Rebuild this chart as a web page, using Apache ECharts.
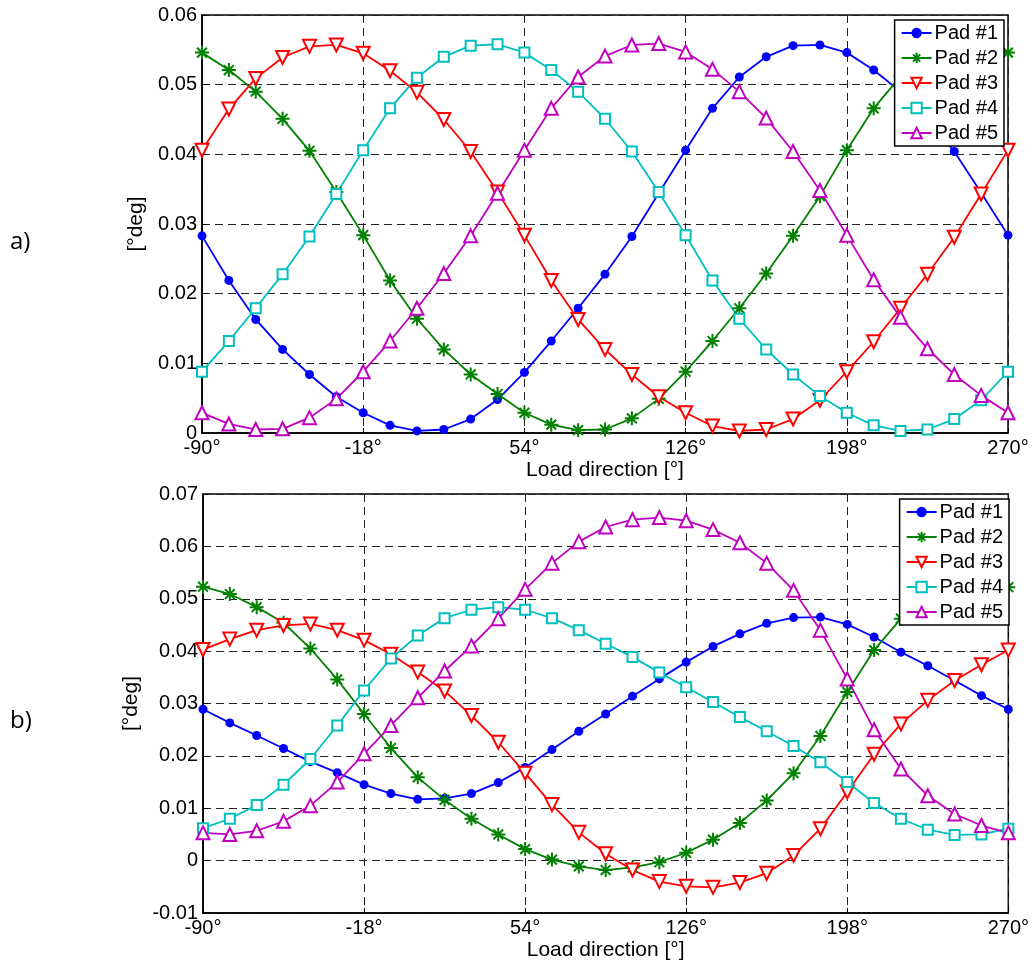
<!DOCTYPE html>
<html>
<head>
<meta charset="utf-8">
<script src="https://cdn.jsdelivr.net/npm/echarts@6/dist/echarts.min.js"></script>
<style>
html,body{margin:0;padding:0;background:#fff;}
#chart{width:1032px;height:965px;}
</style>
</head>
<body>
<div id="chart"></div>
<script>
// Load direction categories (degrees)
const angles = [-90,-78,-66,-54,-42,-30,-18,-6,6,18,30,42,54,66,78,90,102,114,126,138,150,162,174,186,198,210,222,234,246,258,270];
const seriesNames = ['Pad #1','Pad #2','Pad #3','Pad #4','Pad #5'];

// Panel a) values
const a_pad1 = [0.0283,0.0219,0.0163,0.0120,0.0084,0.0052,0.0029,0.0011,0.0003,0.0005,0.0020,0.0048,0.0087,0.0132,0.0179,0.0228,0.0282,0.0344,0.0406,0.0466,0.0511,0.0540,0.0556,0.0557,0.0546,0.0521,0.0490,0.0451,0.0404,0.0345,0.0284];
const a_pad2 = [0.0546,0.0521,0.0490,0.0451,0.0405,0.0346,0.0284,0.0219,0.0164,0.0120,0.0084,0.0056,0.0029,0.0012,0.0004,0.0005,0.0021,0.0049,0.0088,0.0132,0.0179,0.0229,0.0283,0.0340,0.0406,0.0466,0.0512,0.0540,0.0556,0.0557,0.0546];
const a_pad3 = [0.0406,0.0465,0.0509,0.0539,0.0555,0.0557,0.0545,0.0520,0.0489,0.0450,0.0404,0.0346,0.0284,0.0219,0.0163,0.0120,0.0084,0.0052,0.0029,0.0010,0.0003,0.0005,0.0020,0.0047,0.0088,0.0131,0.0179,0.0228,0.0281,0.0343,0.0406];
const a_pad4 = [0.0088,0.0132,0.0179,0.0228,0.0282,0.0343,0.0406,0.0466,0.0510,0.0540,0.0556,0.0558,0.0546,0.0521,0.0490,0.0451,0.0404,0.0346,0.0284,0.0219,0.0164,0.0120,0.0084,0.0053,0.0029,0.0011,0.0003,0.0005,0.0020,0.0047,0.0088];
const a_pad5 = [0.0029,0.0013,0.0005,0.0006,0.0022,0.0049,0.0088,0.0132,0.0179,0.0229,0.0283,0.0344,0.0406,0.0466,0.0511,0.0541,0.0557,0.0559,0.0547,0.0522,0.0490,0.0452,0.0404,0.0348,0.0284,0.0220,0.0166,0.0121,0.0084,0.0054,0.0029];

// Panel b) values
const b_pad1 = [0.0289,0.0263,0.0239,0.0214,0.0189,0.0168,0.0145,0.0128,0.0117,0.0119,0.0128,0.0149,0.0178,0.0212,0.0247,0.0280,0.0314,0.0347,0.0379,0.0409,0.0433,0.0453,0.0464,0.0465,0.0451,0.0427,0.0398,0.0372,0.0344,0.0315,0.0289];
const b_pad2 = [0.0523,0.0509,0.0484,0.0454,0.0405,0.0346,0.0280,0.0215,0.0159,0.0116,0.0080,0.0050,0.0022,0.0002,-0.0011,-0.0018,-0.0013,-0.0003,0.0015,0.0040,0.0072,0.0115,0.0167,0.0238,0.0322,0.0402,0.0462,0.0497,0.0515,0.0524,0.0522];
const b_pad3 = [0.0403,0.0423,0.0440,0.0449,0.0452,0.0440,0.0421,0.0394,0.0360,0.0324,0.0277,0.0226,0.0167,0.0107,0.0054,0.0013,-0.0018,-0.0040,-0.0049,-0.0051,-0.0042,-0.0024,0.0010,0.0061,0.0131,0.0203,0.0261,0.0306,0.0344,0.0374,0.0402];
const b_pad4 = [0.0062,0.0080,0.0106,0.0145,0.0194,0.0258,0.0325,0.0386,0.0430,0.0463,0.0479,0.0484,0.0479,0.0463,0.0440,0.0414,0.0389,0.0359,0.0331,0.0303,0.0274,0.0247,0.0219,0.0188,0.0150,0.0110,0.0080,0.0059,0.0049,0.0050,0.0061];
const b_pad5 = [0.0053,0.0050,0.0057,0.0075,0.0105,0.0150,0.0204,0.0258,0.0311,0.0362,0.0410,0.0462,0.0518,0.0568,0.0609,0.0637,0.0651,0.0655,0.0649,0.0632,0.0607,0.0568,0.0516,0.0440,0.0347,0.0250,0.0175,0.0124,0.0089,0.0067,0.0053];

const yTicksA = {min: 0, max: 0.06, interval: 0.01};
const yTicksB = {min: -0.01, max: 0.07, interval: 0.01};

const colors = ['#0000ff', '#008000', '#ff0000', '#00bfbf', '#bf00bf'];
const asterisk = 'path://M10,0L10,20M0,10L20,10M3,3L17,17M3,17L17,3';
const styles = [
  {symbol: 'circle', symbolSize: 9, symbolRotate: 0, itemStyle: {color: colors[0]}},
  {symbol: asterisk, symbolSize: 14, symbolRotate: 0, itemStyle: {color: colors[1], borderColor: colors[1], borderWidth: 2}},
  {symbol: 'emptyTriangle', symbolSize: 13, symbolRotate: 180, itemStyle: {color: colors[2], borderWidth: 1.6}},
  {symbol: 'emptyRect', symbolSize: 10, symbolRotate: 0, itemStyle: {color: colors[3], borderWidth: 1.6}},
  {symbol: 'emptyTriangle', symbolSize: 13, symbolRotate: 0, itemStyle: {color: colors[4], borderWidth: 1.6}}
];

const FONT = 'Liberation Sans, Arial, sans-serif';
const grids = [
  {left: 202, right: 24, top: 15, height: 418, show: true, borderColor: '#000', borderWidth: 1.5},
  {left: 203, right: 19, top: 494, height: 419, show: true, borderColor: '#000', borderWidth: 1.5}
];

function xAxis(idx) {
  return {
    type: 'category', gridIndex: idx, data: angles, boundaryGap: false,
    name: 'Load direction [°]', nameLocation: 'middle', nameGap: 27,
    nameTextStyle: {fontFamily: FONT, fontSize: 21, color: '#000'},
    axisLine: {onZero: false, lineStyle: {color: '#000', width: 1.5}},
    axisTick: {inside: true, interval: 5, length: 5, lineStyle: {color: '#000'}},
    axisLabel: {interval: 5, formatter: v => v + '°', fontFamily: FONT, fontSize: 20, color: '#000', margin: 5},
    splitLine: {show: true, interval: 5, lineStyle: {type: [8, 5], color: '#222', width: 1}}
  };
}
function yAxis(idx, t) {
  return {
    type: 'value', gridIndex: idx, min: t.min, max: t.max, interval: t.interval,
    name: '[°deg]', nameLocation: 'middle', nameGap: 42,
    nameTextStyle: {fontFamily: FONT, fontSize: 21, color: '#000'},
    axisLine: {show: true, onZero: false, lineStyle: {color: '#000', width: 1.5}},
    axisTick: {show: true, inside: true, length: 5, lineStyle: {color: '#000'}},
    axisLabel: {fontFamily: FONT, fontSize: 20, color: '#000', margin: 5},
    splitLine: {show: true, lineStyle: {type: [8, 5], color: '#222', width: 1}}
  };
}

const dataA = [a_pad1, a_pad2, a_pad3, a_pad4, a_pad5];
const dataB = [b_pad1, b_pad2, b_pad3, b_pad4, b_pad5];
const series = [];
[dataA, dataB].forEach((set, gi) => {
  set.forEach((vals, i) => {
    series.push(Object.assign({
      name: seriesNames[i], type: 'line', xAxisIndex: gi, yAxisIndex: gi,
      data: vals, showAllSymbol: true, animation: false,
      lineStyle: {color: colors[i], width: 1.8}
    }, JSON.parse(JSON.stringify(styles[i]))));
  });
});

function legend(top, right) {
  return {
    data: seriesNames, orient: 'vertical', top: top, right: right,
    backgroundColor: '#fff', borderColor: '#000', borderWidth: 1.5,
    padding: [3, 6, 3, 6], itemGap: 5, itemWidth: 30, itemHeight: 13,
    selectedMode: false,
    textStyle: {fontFamily: FONT, fontSize: 20, color: '#000', padding: [0, 0, 0, -2]}
  };
}

const chart = echarts.init(document.getElementById('chart'), null, {renderer: 'canvas'});
chart.setOption({
  backgroundColor: '#fff',
  animation: false,
  grid: grids,
  xAxis: [xAxis(0), xAxis(1)],
  yAxis: [yAxis(0, yTicksA), yAxis(1, yTicksB)],
  legend: [legend(20, 28), legend(499, 23)],
  series: series,
  graphic: [
    {type: 'text', left: 10, top: 230, style: {text: 'a)', font: '24px "Open Sans", sans-serif', fill: '#000'}},
    {type: 'text', left: 10, top: 709, style: {text: 'b)', font: '24px "Open Sans", sans-serif', fill: '#000'}}
  ]
});
</script>
</body>
</html>
